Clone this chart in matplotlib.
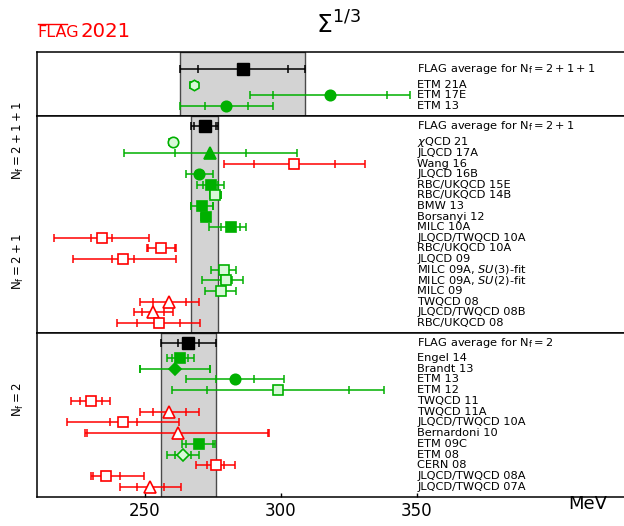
import matplotlib
matplotlib.use('Agg')
import matplotlib.pyplot as plt
from matplotlib.lines import Line2D

GREEN = '#00b000'
LIGHT = '#d8f8d8'
RED = '#ff0000'

# ---------------- Nf = 2+1+1 ----------------
labels_4 = ['ETM 21A', 'ETM 17E', 'ETM 13']
values_4 = [268.0, 318.0, 280.0]
stat_4 = [1.0, 21.0, 8.0]
totlo_4 = [1.5, 29.5, 17.0]
tothi_4 = [1.5, 29.5, 17.0]
marker_4 = ['h', 'o', 'o']
kind_4 = ['light', 'filled', 'filled']
avg_4 = [286.0, 16.5, 23.0]
avglabel_4 = r'FLAG average for $\mathrm{N_f=2+1+1}$'

# ---------------- Nf = 2+1 ----------------
labels_3 = [r'$\chi$QCD 21', 'JLQCD 17A', 'Wang 16', 'JLQCD 16B', 'RBC/UKQCD 15E',
            'RBC/UKQCD 14B', 'BMW 13', 'Borsanyi 12', 'MILC 10A', 'JLQCD/TWQCD 10A',
            'RBC/UKQCD 10A', 'JLQCD 09', r'MILC 09A, $SU(3)$-fit', r'MILC 09A, $SU(2)$-fit',
            'MILC 09', 'TWQCD 08', 'JLQCD/TWQCD 08B', 'RBC/UKQCD 08']
values_3 = [260.2, 274.0, 305.0, 270.0, 274.2, 275.9, 271.0, 272.3, 281.5, 234.0,
            256.0, 242.0, 279.0, 280.0, 278.0, 259.0, 253.0, 255.0]
stat_3 = [1.0, 13.0, 15.0, 1.3, 2.8, 1.9, 4.0, 1.2, 3.4, 4.0,
          5.0, 4.0, 1.0, 2.0, 1.0, 6.0, 4.0, 8.0]
totlo_3 = [1.5, 31.8, 25.8, 5.0, 4.9, 2.1, 4.1, 1.8, 7.9, 17.5,
           5.4, 18.4, 4.6, 9.2, 5.9, 10.8, 7.2, 15.3]
tothi_3 = [1.5, 31.8, 25.8, 5.0, 4.9, 2.1, 4.1, 1.8, 5.6, 17.5,
           5.4, 19.4, 4.6, 6.0, 5.5, 10.8, 7.2, 15.3]
marker_3 = ['o', '^', 's', 'o', 's', 's', 's', 's', 's', 's',
            's', 's', 's', 's', 's', '^', '^', 's']
kind_3 = ['light', 'filled', 'open', 'filled', 'filled', 'light', 'filled', 'filled', 'filled', 'open',
          'open', 'open', 'light', 'light', 'light', 'open', 'open', 'open']
avg_3 = [272.0, 4.0, 5.0]
avglabel_3 = r'FLAG average for $\mathrm{N_f=2+1}$'

# ---------------- Nf = 2 ----------------
labels_2 = ['Engel 14', 'Brandt 13', 'ETM 13', 'ETM 12', 'TWQCD 11', 'TWQCD 11A',
            'JLQCD/TWQCD 10A', 'Bernardoni 10', 'ETM 09C', 'ETM 08', 'CERN 08',
            'JLQCD/TWQCD 08A', 'JLQCD/TWQCD 07A']
values_2 = [263.0, 261.0, 283.0, 299.0, 230.0, 259.0, 242.0, 262.0, 270.0, 264.0, 276.0,
            235.7, 252.0]
stat_2 = [3.0, 13.0, 7.0, 26.0, 4.0, 6.0, 5.0, 33.5, 5.0, 3.0, 3.0, 5.0, 5.0]
totlo_2 = [5.0, 13.0, 18.0, 39.0, 7.2, 10.8, 20.6, 34.2, 6.4, 5.8, 7.1, 5.4, 11.2]
tothi_2 = [5.0, 13.0, 18.0, 39.0, 7.2, 10.8, 20.6, 33.2, 5.8, 5.8, 7.1, 13.8, 11.2]
marker_2 = ['s', 'D', 'o', 's', 's', '^', 's', '^', 's', 'D', 's', 's', '^']
kind_2 = ['filled', 'filled', 'filled', 'light', 'open', 'open', 'open', 'open', 'filled',
          'light', 'open', 'open', 'open']
avg_2 = [266.0, 4.0, 10.0]
avglabel_2 = r'FLAG average for $\mathrm{N_f=2}$'

xticks = [250, 300, 350]
XLIM = (210.36, 432.2)
LABEL_X = 350.3

MSIZE = {'s': 7.0, 'o': 7.5, '^': 8.0, 'D': 6.3, 'h': 7.5}

fig = plt.figure(figsize=(6.24, 5.26), dpi=100)
W, H = 624.0, 526.0
left = 37.3 / W
width = (640.0 - 37.3) / W


def make_ax(top_px, bot_px):
    return fig.add_axes([left, 1 - bot_px / H, width, (bot_px - top_px) / H])


ax4 = make_ax(52.3, 115.7)
ax3 = make_ax(115.7, 332.7)
ax2 = make_ax(332.7, 496.7)


def draw_panel(ax, labels, vals, stat, lo, hi, markers, kinds, avg, avglabel, ylim, avg_y):
    n = len(labels)
    ax.set_xlim(*XLIM)
    ax.set_ylim(*ylim)
    a, ain, atot = avg
    ax.axvspan(a - atot, a + atot, facecolor='#d3d3d3', edgecolor='#4a4a4a', lw=1.0, zorder=0)
    # average
    ax.errorbar([a], [avg_y], xerr=[[atot], [atot]], fmt='none', ecolor='black',
                elinewidth=1.1, capsize=2.8, capthick=1.1, zorder=2)
    ax.plot([a - ain, a + ain], [avg_y, avg_y], ls='none', marker='|', ms=6, mew=1.1,
            color='black', zorder=2)
    ax.plot([a], [avg_y], marker='s', ms=8, color='black', zorder=3)
    ax.text(LABEL_X, avg_y, avglabel, fontsize=8.2, va='center', ha='left')
    for i in range(n):
        y = n - i
        v = vals[i]
        k = kinds[i]
        col = RED if k == 'open' else GREEN
        face = {'open': 'white', 'light': LIGHT, 'filled': GREEN}[k]
        ax.errorbar([v], [y], xerr=[[lo[i]], [hi[i]]], fmt='none', ecolor=col,
                    elinewidth=1.1, capsize=2.8, capthick=1.1, zorder=2)
        ax.plot([v - stat[i], v + stat[i]], [y, y], ls='none', marker='|', ms=6, mew=1.1,
                color=col, zorder=2)
        ax.plot([v], [y], marker=markers[i], ms=MSIZE[markers[i]], mfc=face, mec=col,
                mew=1.2, ls='none', zorder=3)
        ax.text(LABEL_X, y, labels[i], fontsize=8.2, va='center', ha='left')
    ax.set_yticks([])
    for s in ax.spines.values():
        s.set_linewidth(1.1)


draw_panel(ax4, labels_4, values_4, stat_4, totlo_4, tothi_4, marker_4, kind_4,
           avg_4, avglabel_4, (0.09, 6.04), 4.47)
draw_panel(ax3, labels_3, values_3, stat_3, totlo_3, tothi_3, marker_3, kind_3,
           avg_3, avglabel_3, (0.06, 20.51), 19.54)
draw_panel(ax2, labels_2, values_2, stat_2, totlo_2, tothi_2, marker_2, kind_2,
           avg_2, avglabel_2, (0.07, 15.36), 14.40)

for ax in (ax4, ax3):
    ax.set_xticks([])
ax2.set_xticks(xticks)
ax2.set_xticklabels([str(t) for t in xticks])
ax2.tick_params(axis='x', direction='in', length=3, width=1.0, labelsize=12, pad=4)

# side labels
fig.text(18 / W, 1 - 141 / H, r'$\mathrm{N_f=2+1+1}$', rotation=90, fontsize=8.5,
         ha='center', va='center')
fig.text(18 / W, 1 - 262 / H, r'$\mathrm{N_f=2+1}$', rotation=90, fontsize=8.5,
         ha='center', va='center')
fig.text(18 / W, 1 - 400 / H, r'$\mathrm{N_f=2}$', rotation=90, fontsize=8.5,
         ha='center', va='center')

# MeV
fig.text(588 / W, 1 - 504 / H, 'MeV', fontsize=13, ha='center', va='center')

# title
fig.text(338 / W, 1 - 25 / H, r'$\Sigma^{1/3}$', fontsize=18, ha='center', va='center')

# FLAG logo (real text)
fig.text(37 / W, 1 - 37 / H, 'FLAG', fontsize=11.5, color=RED, ha='left', va='baseline')
fig.text(80 / W, 1 - 37 / H, '2021', fontsize=14.2, color=RED, ha='left', va='baseline')
fig.add_artist(Line2D([38 / W, 67 / W], [1 - 23.5 / H, 1 - 23.5 / H], color=RED, lw=1.0))

fig.savefig('out.png', dpi=100)
